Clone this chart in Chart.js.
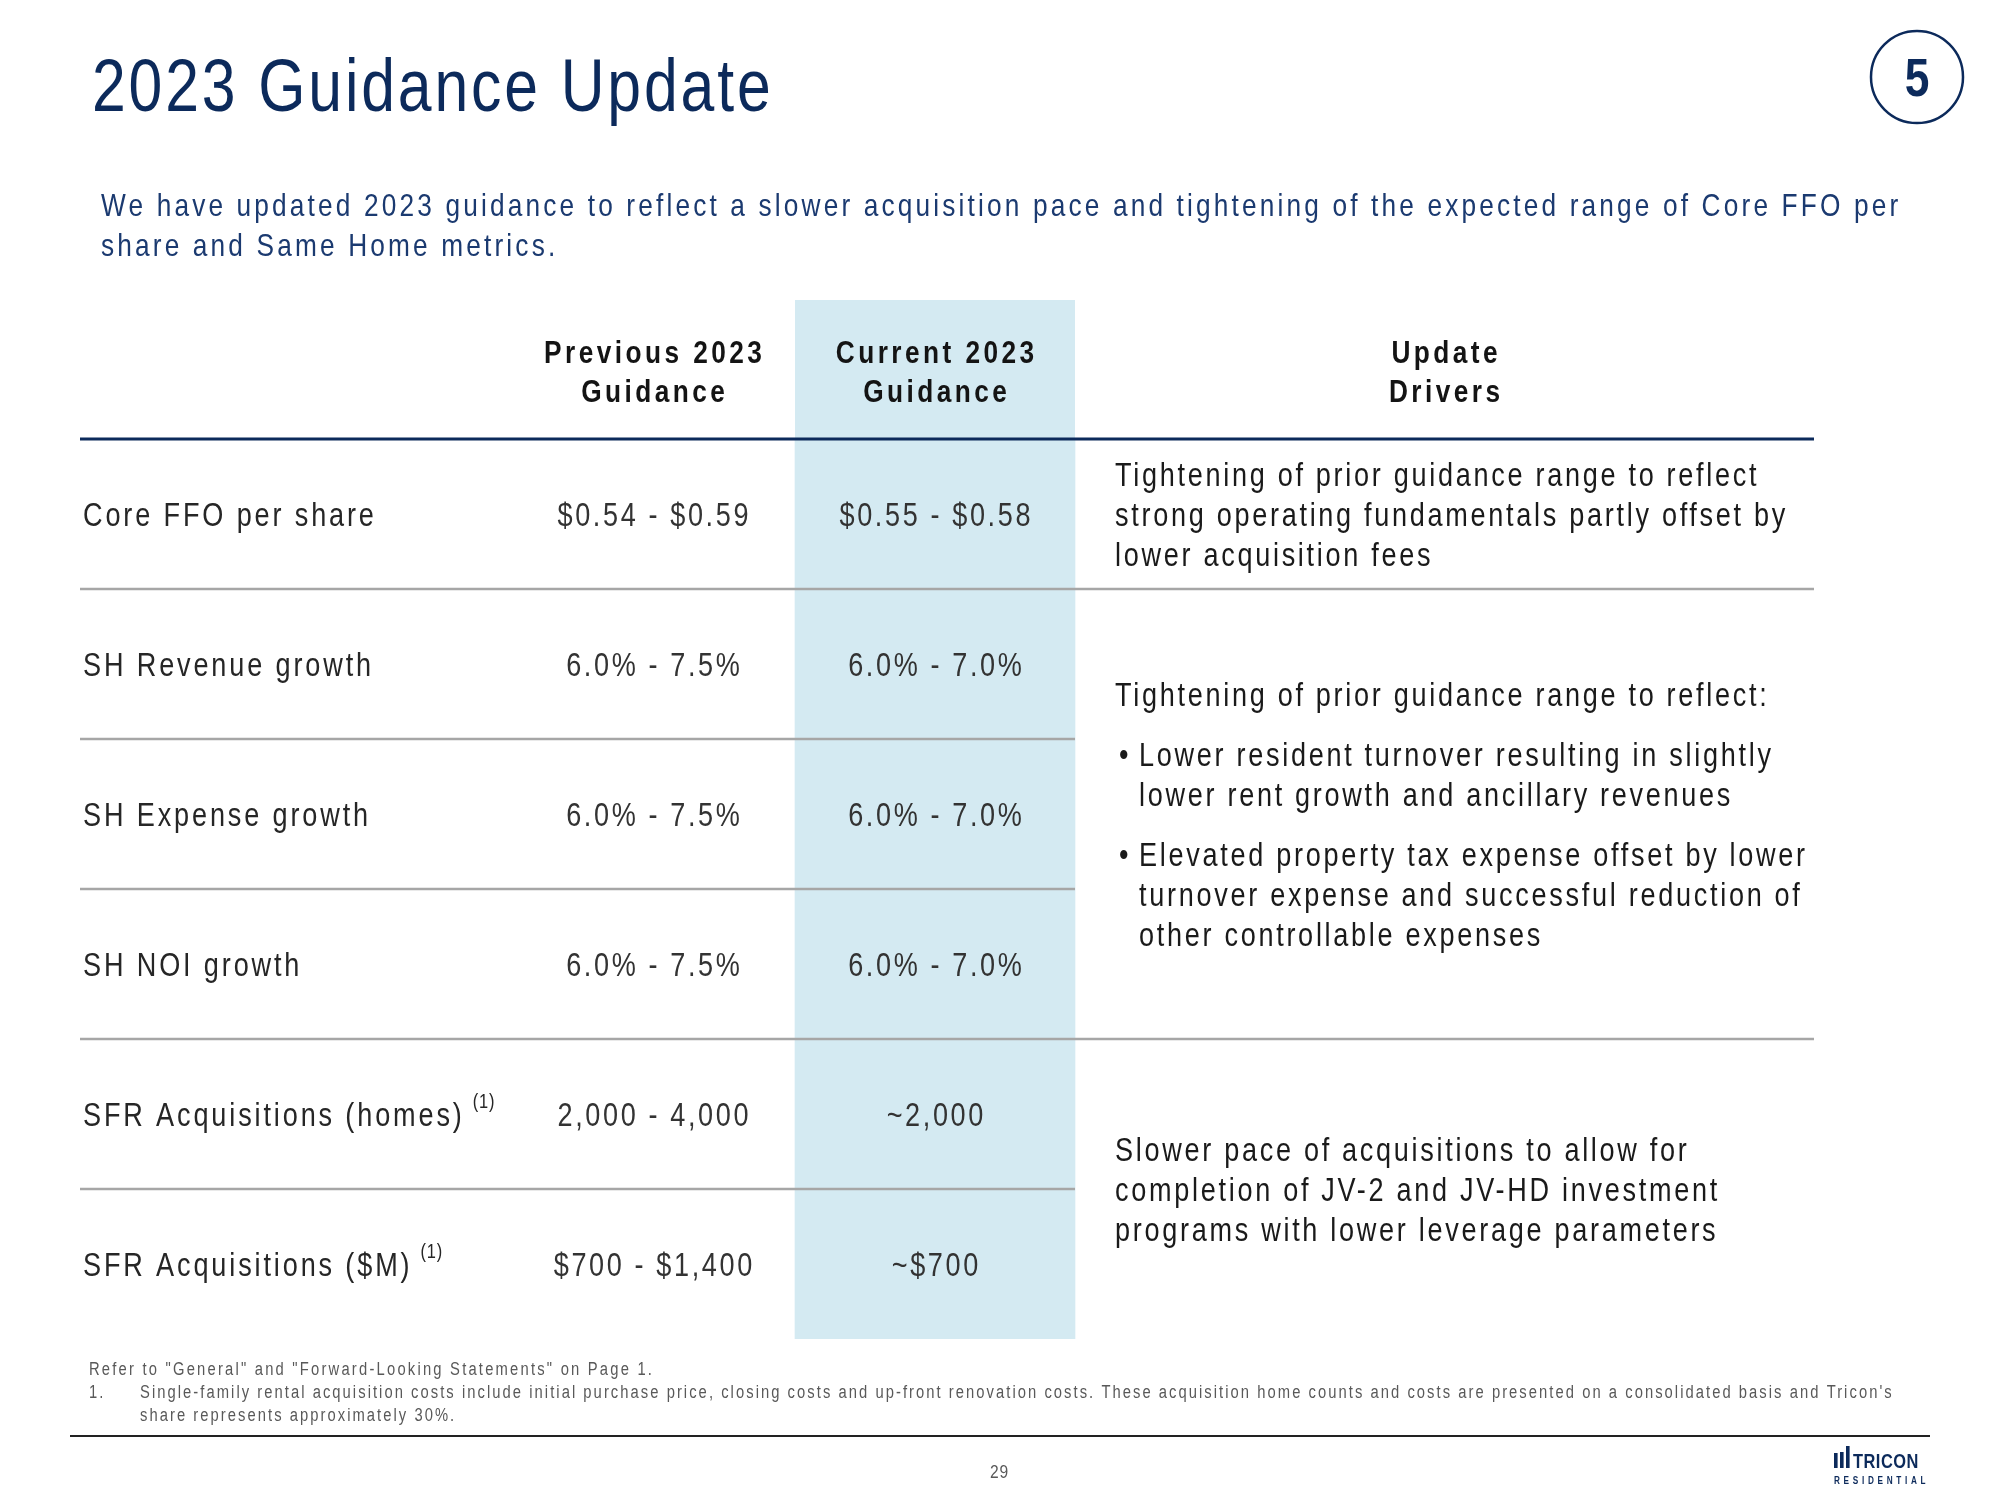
<!DOCTYPE html>
<html>
<head>
<meta charset="utf-8">
<title>2023 Guidance Update</title>
<script src="https://cdn.jsdelivr.net/npm/chart.js@4.4.1/dist/chart.umd.min.js"></script>
<style>
  html, body { margin: 0; padding: 0; background: #fff; }
  #slide { display: block; }
</style>
</head>
<body>
<canvas id="slide" width="2000" height="1500"></canvas>
<script>
// ---- data ----
const metrics = ['Core FFO per share', 'SH Revenue growth', 'SH Expense growth', 'SH NOI growth',
  'SFR Acquisitions (homes)', 'SFR Acquisitions ($M)']
const footnoteMarks = ['', '', '', '', '(1)', '(1)']
const previousGuidance = ['$0.54 - $0.59', '6.0% - 7.5%', '6.0% - 7.5%', '6.0% - 7.5%', '2,000 - 4,000', '$700 - $1,400']
const currentGuidance = ['$0.55 - $0.58', '6.0% - 7.0%', '6.0% - 7.0%', '6.0% - 7.0%', '~2,000', '~$700']
const columnHeaders = [[], ['Previous 2023', 'Guidance'], ['Current 2023', 'Guidance'], ['Update', 'Drivers']]
// which rows each driver block spans, and its paragraphs (bullet paragraphs start with '• ')
const driverRows = [[0, 0], [1, 3], [4, 5]]
const driverParagraphs = [
  [['Tightening of prior guidance range to reflect', 'strong operating fundamentals partly offset by', 'lower acquisition fees']],
  [['Tightening of prior guidance range to reflect:'],
   ['• Lower resident turnover resulting in slightly', 'lower rent growth and ancillary revenues'],
   ['• Elevated property tax expense offset by lower', 'turnover expense and successful reduction of', 'other controllable expenses']],
  [['Slower pace of acquisitions to allow for', 'completion of JV-2 and JV-HD investment', 'programs with lower leverage parameters']],
]
// rows after which a separator runs across the drivers column too
const fullRules = [0, 3]

const titleText = '2023 Guidance Update'
const sectionNumber = '5'
const introLines = ['We have updated 2023 guidance to reflect a slower acquisition pace and tightening of the expected range of Core FFO per',
  'share and Same Home metrics.']
const footnotes = ['Refer to "General" and "Forward-Looking Statements" on Page 1.',
  'Single-family rental acquisition costs include initial purchase price, closing costs and up-front renovation costs. These acquisition home counts and costs are presented on a consolidated basis and Tricon\'s',
  'share represents approximately 30%.']
const pageNumber = '29'

// ---- layout ----
const colEdges = [0, 431, 715, 995, 1734]   // table x units (px from table left)
const NAVY = '#0c2a5b'
const BLUE_FILL = '#d4eaf2'
const FAMILY = '"Liberation Sans Narrow", "Arial Narrow", "Liberation Sans", Arial, sans-serif'
const BODY = { size: 33, ls: 3.2 }

const ctx0 = document.getElementById('slide').getContext('2d')
ctx0.font = '40px "Liberation Sans Narrow", monospace'
const wNarrow = ctx0.measureText('abcdefghij').width
ctx0.font = '40px monospace'
const wMono = ctx0.measureText('abcdefghij').width
const SX = Math.abs(wNarrow - wMono) > 0.5 ? 1 : 0.82

function txt(ctx, s, x, y, o) {
  ctx.save()
  ctx.font = `${o.weight || 'normal'} ${o.size}px ${FAMILY}`
  ctx.letterSpacing = (o.ls || 0) + 'px'
  ctx.fillStyle = o.color || '#222'
  ctx.textBaseline = 'alphabetic'
  ctx.textAlign = 'left'
  const w = (ctx.measureText(s).width - (o.ls || 0)) * SX
  const left = o.align === 'center' ? x - w / 2 : o.align === 'right' ? x - w : x
  ctx.translate(left, y)
  ctx.scale(SX, 1)
  ctx.fillText(s, 0, 0)
  ctx.restore()
  return w
}

function hline(ctx, x1, x2, y, color, width) {
  ctx.save()
  ctx.strokeStyle = color
  ctx.lineWidth = width
  ctx.beginPath()
  ctx.moveTo(x1, y)
  ctx.lineTo(x2, y)
  ctx.stroke()
  ctx.restore()
}

const tablePlugin = {
  id: 'table',
  beforeDatasetsDraw(chart) {
    const { ctx, chartArea, scales: { x } } = chart
    // header part of the highlighted column
    const l = x.getPixelForValue(colEdges[2]), r = x.getPixelForValue(colEdges[3])
    ctx.save()
    ctx.fillStyle = BLUE_FILL
    ctx.fillRect(l, chartArea.top - 139, r - l, 139)
    ctx.restore()
  },
  afterDatasetsDraw(chart) {
    const { ctx, chartArea, scales: { x, y } } = chart
    const left = chartArea.left, right = chartArea.right
    const centers = metrics.map((m, i) => y.getPixelForValue(i))
    const colCenter = c => x.getPixelForValue((colEdges[c] + colEdges[c + 1]) / 2)

    // header
    columnHeaders.forEach((lines, c) => {
      lines.forEach((s, k) => {
        txt(ctx, s, colCenter(c), chartArea.top - 76 + k * 39, { size: 32, weight: 'bold', ls: 4.2, color: '#141414', align: 'center' })
      })
    })

    // rules
    hline(ctx, left, right, chartArea.top, NAVY, 3)
    for (let i = 0; i < metrics.length - 1; i++) {
      const yy = (centers[i] + centers[i + 1]) / 2
      const end = fullRules.includes(i) ? right : x.getPixelForValue(colEdges[3])
      hline(ctx, left, end, yy, '#a6a6a6', 2.5)
    }

    // rows
    metrics.forEach((m, i) => {
      const base = centers[i] + 12
      const w = txt(ctx, m, left + 3, base, { size: 33, ls: 3.5, color: '#262626' })
      if (footnoteMarks[i]) txt(ctx, footnoteMarks[i], left + 3 + w + 11, base - 18, { size: 20, ls: 1, color: '#262626' })
      txt(ctx, previousGuidance[i], colCenter(1), base, { ...BODY, color: '#333', align: 'center' })
      txt(ctx, currentGuidance[i], colCenter(2), base, { ...BODY, color: '#333', align: 'center' })
    })

    // drivers
    const dx = x.getPixelForValue(colEdges[3]) + 40
    const lineGap = 40, paraGap = 20
    driverParagraphs.forEach((paras, b) => {
      const [r0, r1] = driverRows[b]
      const mid = (centers[r0] + centers[r1]) / 2
      const nLines = paras.reduce((a, p) => a + p.length, 0)
      const height = (nLines - 1) * lineGap + (paras.length - 1) * paraGap
      let yy = mid - height / 2
      paras.forEach(p => {
        p.forEach((s, k) => {
          const bullet = k === 0 && s.startsWith('• ')
          const indent = p[0].startsWith('• ') ? 24 : 0
          if (bullet) txt(ctx, '•', dx + 4, yy + 12, { size: 33, color: '#1a1a1a' })
          txt(ctx, bullet ? s.slice(2) : s, dx + indent, yy + 12, { size: 33, ls: 3.3, color: '#1a1a1a' })
          yy += lineGap
        })
        yy += paraGap
      })
    })
  },
  afterDraw(chart) {
    const { ctx } = chart
    // title and intro
    txt(ctx, titleText, 92, 111, { size: 74, ls: 3.5, color: NAVY })
    introLines.forEach((s, k) => txt(ctx, s, 101, 216 + k * 40, { size: 32, ls: 3.85, color: '#1b3a70' }))

    // section badge
    ctx.save()
    ctx.strokeStyle = NAVY
    ctx.lineWidth = 2.5
    ctx.beginPath()
    ctx.arc(1917, 77, 46, 0, Math.PI * 2)
    ctx.stroke()
    ctx.restore()
    txt(ctx, sectionNumber, 1917, 96, { size: 54, weight: 'bold', color: NAVY, align: 'center' })

    // footnotes
    const fn = { size: 18, ls: 2.5, color: '#595959' }
    txt(ctx, footnotes[0], 89, 1375, { ...fn, ls: 2.7 })
    txt(ctx, '1.', 89, 1398, fn)
    txt(ctx, footnotes[1], 140, 1398, fn)
    txt(ctx, footnotes[2], 140, 1421, fn)

    hline(ctx, 70, 1930, 1436, '#222', 2)
    txt(ctx, pageNumber, 999, 1478, { size: 19, ls: 1, color: '#595959', align: 'center' })

    // logo
    ctx.save()
    ctx.fillStyle = NAVY
    ;[[1834, 15], [1840, 16], [1846, 22]].forEach(([bx, h]) => ctx.fillRect(bx, 1468 - h, 3.6, h))
    ctx.restore()
    txt(ctx, 'TRICON', 1853, 1468, { size: 20, weight: 'bold', ls: 0.6, color: NAVY })
    txt(ctx, 'RESIDENTIAL', 1834, 1484, { size: 10, weight: 'bold', ls: 4.5, color: NAVY })
  },
}

new Chart(document.getElementById('slide'), {
  type: 'bar',
  data: {
    labels: metrics,
    datasets: [{
      label: 'Current 2023 Guidance',
      data: metrics.map(() => [colEdges[2], colEdges[3]]),
      backgroundColor: BLUE_FILL,
      borderWidth: 0,
      barPercentage: 1,
      categoryPercentage: 1,
    }],
  },
  options: {
    indexAxis: 'y',
    responsive: false,
    animation: false,
    layout: { padding: { left: 80, right: 186, top: 439, bottom: 161 } },
    scales: {
      x: { type: 'linear', min: colEdges[0], max: colEdges[colEdges.length - 1], display: false },
      y: { display: false },
    },
    plugins: { legend: { display: false }, tooltip: { enabled: false } },
  },
  plugins: [tablePlugin],
})
</script>
</body>
</html>
